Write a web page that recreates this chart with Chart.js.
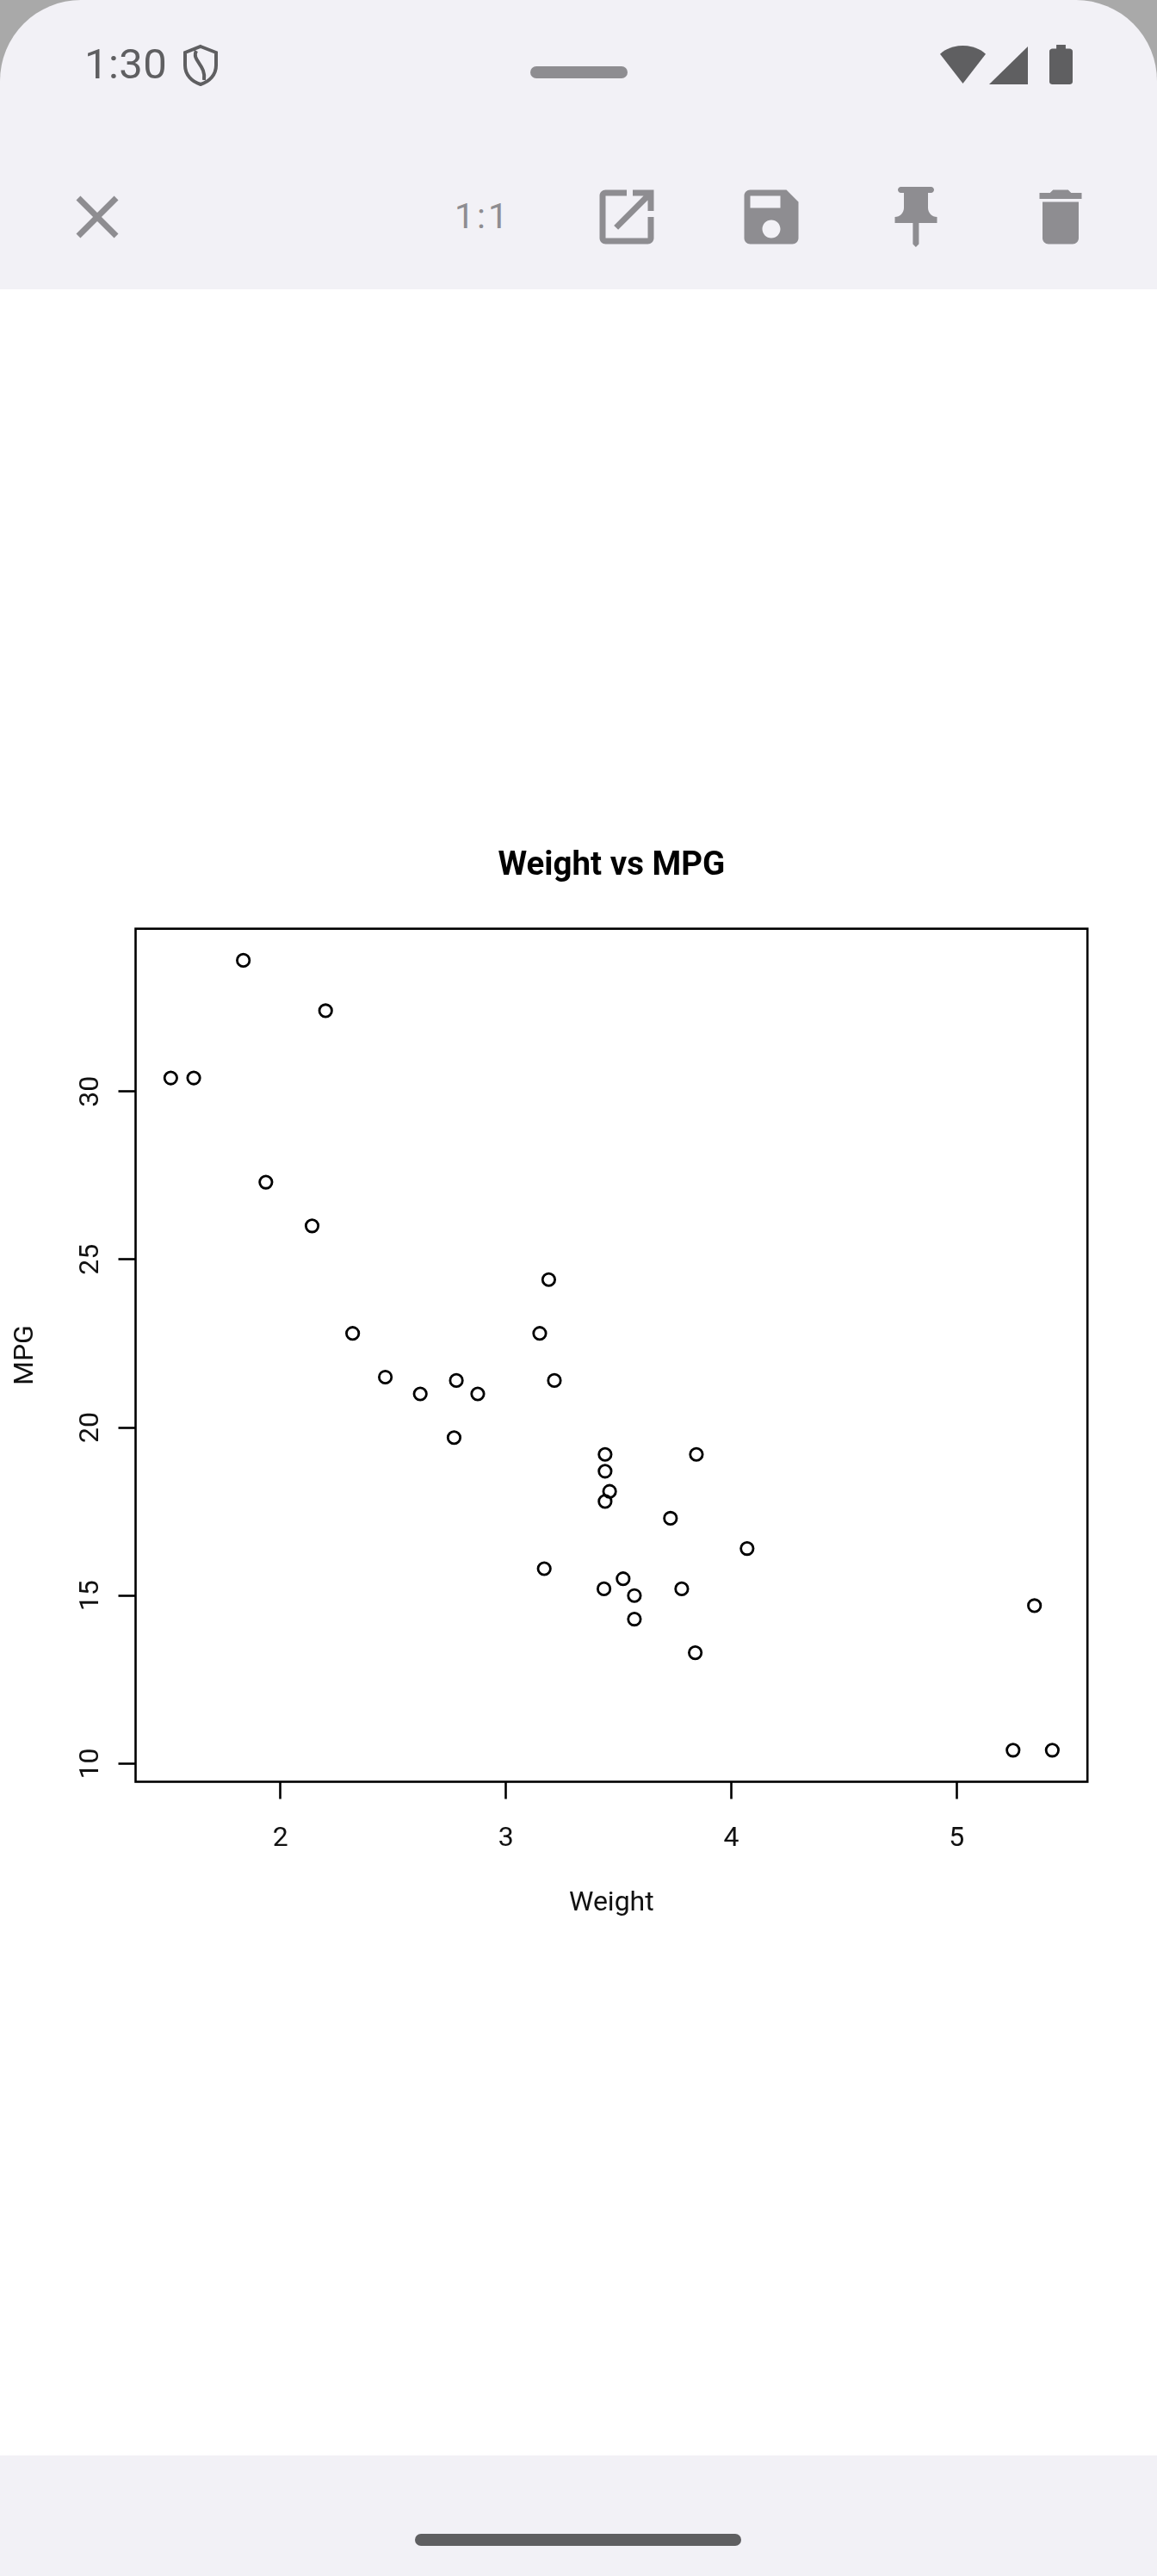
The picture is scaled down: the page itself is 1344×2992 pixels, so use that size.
<!DOCTYPE html>
<html>
<head>
<meta charset="utf-8">
<title>Weight vs MPG</title>
<script src="https://cdn.jsdelivr.net/npm/chart.js@4"></script>
<style>
  html, body { margin: 0; padding: 0; background: #fff; }
  body { position: relative; width: 1344px; height: 2992px; overflow: hidden; font-family: Roboto, sans-serif; }
  #frame { position: absolute; left: 0; top: 0; width: 1344px; height: 120px; background: #a9a9a9; }
  #topbar { position: absolute; left: 0; top: 0; width: 1344px; height: 336px; background: #f2f1f6; border-radius: 94px 94px 0 0; }
  #bottombar { position: absolute; left: 0; top: 2852px; width: 1344px; height: 140px; background: #f2f1f6; }
  #homebar { position: absolute; left: 482px; top: 2943px; width: 379px; height: 14px; border-radius: 7px; background: #5f5f61; }
  #notch { position: absolute; left: 616px; top: 77px; width: 113px; height: 14px; border-radius: 7px; background: #8e8d91; }
  .txt { position: absolute; line-height: 1; white-space: nowrap; }
  #clock { left: 98px; top: 50px; font-size: 49px; color: #5f5f61; letter-spacing: 0.4px; }
  #ratio { left: 528px; top: 231px; font-size: 41px; color: #8e8d91; letter-spacing: 3px; }
  svg { position: absolute; overflow: visible; }
  .dark { fill: #5f5f61; }
  .mid { fill: #8e8d91; }
  #plot { position: absolute; left: 0; top: 940px; width: 1344px; height: 1320px; }
</style>
</head>
<body>
<div id="frame"></div>
<div id="topbar"></div>
<div id="bottombar"></div>
<div id="homebar"></div>
<div id="notch"></div>

<div class="txt" id="clock">1:30</div>
<svg style="left:213px;top:52px" width="40" height="48" viewBox="0 0 40 48">
  <path d="M20 2 L38 9 V24 C38 35 30 43 20 46 C10 43 2 35 2 24 V9 Z M15 7 C9 18 27 24 24 41" fill="none" stroke="#5f5f61" stroke-width="4"/>
</svg>
<svg style="left:1092px;top:53px" width="53" height="44" viewBox="0 3 24 18" preserveAspectRatio="none">
  <path class="dark" d="M12 21 L24 7 C23 6 18.7 3 12 3 C5.3 3 1 6 0 7 Z"/>
</svg>
<svg style="left:1149px;top:54px" width="45" height="44" viewBox="2 2 20 20" preserveAspectRatio="none">
  <path class="dark" d="M2 22h20V2z"/>
</svg>
<svg style="left:1219px;top:52px" width="27" height="46" viewBox="7 2 10 20" preserveAspectRatio="none">
  <path class="dark" d="M15.67 4H14V2h-4v2H8.33C7.6 4 7 4.6 7 5.33v15.33C7 21.4 7.6 22 8.33 22h7.33c.74 0 1.34-.6 1.34-1.33V5.33C17 4.6 16.4 4 15.67 4z"/>
</svg>

<svg style="left:70.5px;top:210px" width="84" height="84" viewBox="0 0 24 24">
  <path class="mid" d="M19 6.41L17.59 5 12 10.59 6.41 5 5 6.41 10.59 12 5 17.59 6.41 19 12 13.41 17.59 19 19 17.59 13.41 12z"/>
</svg>
<div class="txt" id="ratio">1:1</div>
<svg style="left:686px;top:210px" width="84" height="84" viewBox="0 0 24 24">
  <path class="mid" d="M19 19H5V5h7V3H5c-1.11 0-2 .9-2 2v14c0 1.1.89 2 2 2h14c1.1 0 2-.9 2-2v-7h-2v7zM14 3v2h3.59l-9.83 9.83 1.41 1.41L19 6.41V10h2V3h-7z"/>
</svg>
<svg style="left:854px;top:210px" width="84" height="84" viewBox="0 0 24 24">
  <path class="mid" d="M17 3H5c-1.11 0-2 .9-2 2v14c0 1.1.89 2 2 2h14c1.1 0 2-.9 2-2V7l-4-4zm-5 16c-1.66 0-3-1.34-3-3s1.34-3 3-3 3 1.34 3 3-1.34 3-3 3zm3-10H5V5h10v4z"/>
</svg>
<svg style="left:1021.5px;top:210px" width="84" height="84" viewBox="0 0 24 24">
  <path class="mid" d="M16 9V4h1c.55 0 1-.45 1-1s-.45-1-1-1H7c-.55 0-1 .45-1 1s.45 1 1 1h1v5c0 1.66-1.34 3-3 3v2h5.97v7l1 1 1-1v-7H19v-2c-1.66 0-3-1.34-3-3z"/>
</svg>
<svg style="left:1189.5px;top:210px" width="84" height="84" viewBox="0 0 24 24">
  <path class="mid" d="M6 19c0 1.1.9 2 2 2h8c1.1 0 2-.9 2-2V7H6v12zM19 4h-3.5l-1-1h-5l-1 1H5v2h14V4z"/>
</svg>

<canvas id="plot" width="1344" height="1320"></canvas>

<script>
var weight = [2.62, 2.875, 2.32, 3.215, 3.44, 3.46, 3.57, 3.19, 3.15, 3.44, 3.44, 4.07, 3.73, 3.78, 5.25, 5.424,
  5.345, 2.2, 1.615, 1.835, 2.465, 3.52, 3.435, 3.84, 3.845, 1.935, 2.14, 1.513, 3.17, 2.77, 3.57, 2.78];
var mpg = [21, 21, 22.8, 21.4, 18.7, 18.1, 14.3, 24.4, 22.8, 19.2, 17.8, 16.4, 17.3, 15.2, 10.4, 10.4,
  14.7, 32.4, 30.4, 33.9, 21.5, 15.5, 15.2, 13.3, 19.2, 27.3, 26, 30.4, 15.8, 19.7, 15, 21.4];
var xTicks = [2, 3, 4, 5];
var yTicks = [10, 15, 20, 25, 30];

var points = weight.map(function(w, i) {
  return { x: w, y: mpg[i] };
});

// box round the plot area, like R's box()
var plotBox = {
  id: 'plotBox',
  afterDatasetsDraw: function(chart) {
    var a = chart.chartArea;
    var c = chart.ctx;
    c.save();
    c.strokeStyle = '#000';
    c.lineWidth = 2.6;
    c.strokeRect(a.left, a.top, a.right - a.left, a.bottom - a.top);
    c.restore();
  }
};

var ctx = document.getElementById('plot').getContext('2d');
var chart = new Chart(ctx, {
  type: 'scatter',
  data: {
    datasets: [{
      label: 'Weight vs MPG',
      data: points,
      pointStyle: 'circle',
      pointRadius: 7.2,
      pointBorderColor: '#000',
      pointBackgroundColor: 'rgba(0,0,0,0)',
      pointBorderWidth: 2.8
    }]
  },
  options: {
    responsive: false,
    animation: false,
    layout: { padding: { right: 80.8 } },
    plugins: {
      legend: { display: false },
      tooltip: { enabled: false },
      title: {
        display: true,
        text: 'Weight vs MPG',
        fullSize: false,
        color: '#000',
        font: { family: 'Roboto', size: 38.5, weight: 'bold', lineHeight: 1 },
        padding: { top: 46.7, bottom: 53.5 }
      }
    },
    scales: {
      x: {
        type: 'linear',
        min: 1.357,
        max: 5.58,
        afterBuildTicks: function(scale) {
          scale.ticks = xTicks.map(function(v) { return { value: v }; });
        },
        afterFit: function(scale) { scale.height = 190.5; },
        grid: { drawOnChartArea: false, tickLength: 20, tickWidth: 2.6, tickColor: '#000' },
        border: { display: false },
        ticks: { color: '#111', padding: 27, maxRotation: 0, font: { family: 'Roboto', size: 32 } },
        title: {
          display: true,
          text: 'Weight',
          color: '#111',
          font: { family: 'Roboto', size: 32 },
          padding: { top: 0, bottom: 30 }
        }
      },
      y: {
        type: 'linear',
        min: 9.46,
        max: 34.84,
        afterBuildTicks: function(scale) {
          scale.ticks = yTicks.map(function(v) { return { value: v }; });
        },
        afterFit: function(scale) { scale.width = 157.5; },
        grid: { drawOnChartArea: false, tickLength: 20, tickWidth: 2.6, tickColor: '#000' },
        border: { display: false },
        ticks: { color: '#111', padding: 14, minRotation: 90, maxRotation: 90, crossAlign: 'center', font: { family: 'Roboto', size: 32 } },
        title: {
          display: true,
          text: 'MPG',
          color: '#111',
          font: { family: 'Roboto', size: 32 },
          padding: { top: 10.5, bottom: 0 }
        }
      }
    }
  },
  plugins: [plotBox]
});
</script>
</body>
</html>
